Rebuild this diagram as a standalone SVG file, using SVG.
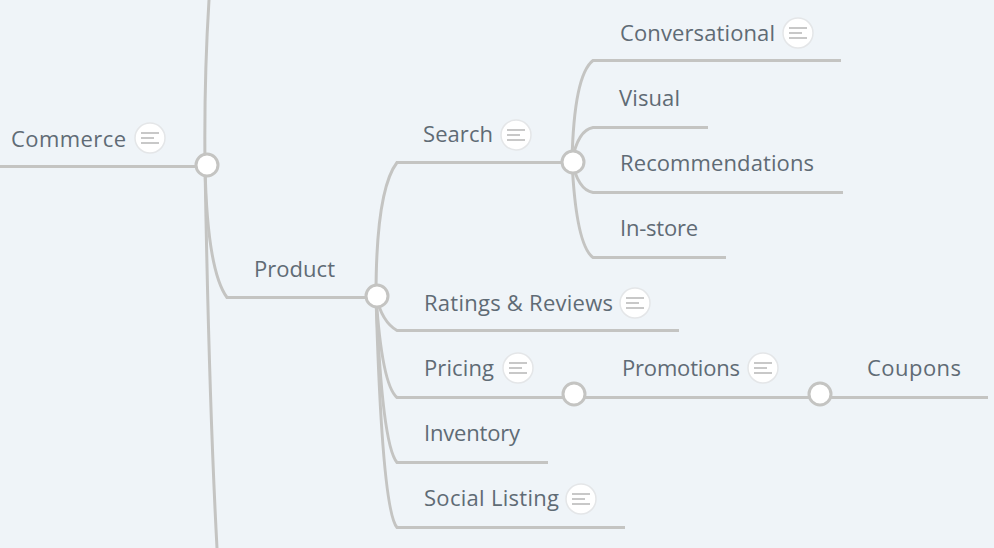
<svg xmlns="http://www.w3.org/2000/svg" width="994" height="548" viewBox="0 0 994 548">
<style>
.c{fill:none;stroke:#c4c4c2;stroke-width:3}
.k{fill:#fff;stroke:#c4c4c2;stroke-width:3}
text{font-family:"Open Sans","Lato",sans-serif;font-size:22px;fill:#5f6b75}
.b{fill:#fff;stroke:#e4e6e8;stroke-width:1.5}
.l{stroke:#c8c8c8;stroke-width:2.2;fill:none}
</style>
<defs>
<g id="note"><circle class="b" r="15"/><path class="l" d="M-9-5H9M-9 0H4M-9 5H9"/></g>
</defs>
<rect width="994" height="548" fill="#eff4f8"/>
<g id="connectors">
<path class="c" d="M0 166.500H206"/>
<path class="c" d="M209 0Q204 80 205 165"/>
<path class="c" d="M205 165Q209 400 217 548"/>
<path class="c" d="M205 165Q207 270 227 297.500H376"/>
<path class="c" d="M376 296Q376 190 397 162.500H572"/>
<path class="c" d="M376 296Q382 322 397 330.500H679"/>
<path class="c" d="M376 296Q382 385 397 397.500H820"/>
<path class="c" d="M376 296Q382 445 397 462.500H548"/>
<path class="c" d="M376 296Q382 510 397 527.500H625"/>
<path class="c" d="M820 397.500H988"/>
<path class="c" d="M572 161Q574 75 593 60.500H841"/>
<path class="c" d="M572 161Q578 130 593 127.500H708"/>
<path class="c" d="M572 161Q578 190 593 192.500H843"/>
<path class="c" d="M572 161Q576 245 593 257.500H726"/>
</g>
<g id="commerce"><text x="11" y="146.500" textLength="115">Commerce</text><use href="#note" x="150" y="138"/><circle class="k" cx="207" cy="165" r="11"/></g>
<g id="product"><text x="254" y="276.500" textLength="81">Product</text><circle class="k" cx="377" cy="296" r="11"/></g>
<g id="search"><text x="423" y="141.500" textLength="70">Search</text><use href="#note" x="516" y="135"/><circle class="k" cx="573" cy="162" r="11"/></g>
<g id="conversational"><text x="620" y="41" textLength="155">Conversational</text><use href="#note" x="798" y="33"/></g>
<g id="visual"><text x="619" y="106" textLength="61">Visual</text></g>
<g id="recommendations"><text x="620" y="171" textLength="194">Recommendations</text></g>
<g id="in-store"><text x="620" y="236" textLength="78">In-store</text></g>
<g id="ratings"><text x="424" y="311" textLength="189">Ratings &amp; Reviews</text><use href="#note" x="635" y="303"/></g>
<g id="pricing"><text x="424" y="376" textLength="70">Pricing</text><use href="#note" x="518" y="368"/><circle class="k" cx="574" cy="394" r="11"/></g>
<g id="promotions"><text x="622" y="376" textLength="118">Promotions</text><use href="#note" x="763" y="368"/><circle class="k" cx="820" cy="394" r="11"/></g>
<g id="coupons"><text x="867" y="376" textLength="94">Coupons</text></g>
<g id="inventory"><text x="424" y="441" textLength="96">Inventory</text></g>
<g id="social"><text x="424" y="506" textLength="135">Social Listing</text><use href="#note" x="581" y="499"/></g>
</svg>
